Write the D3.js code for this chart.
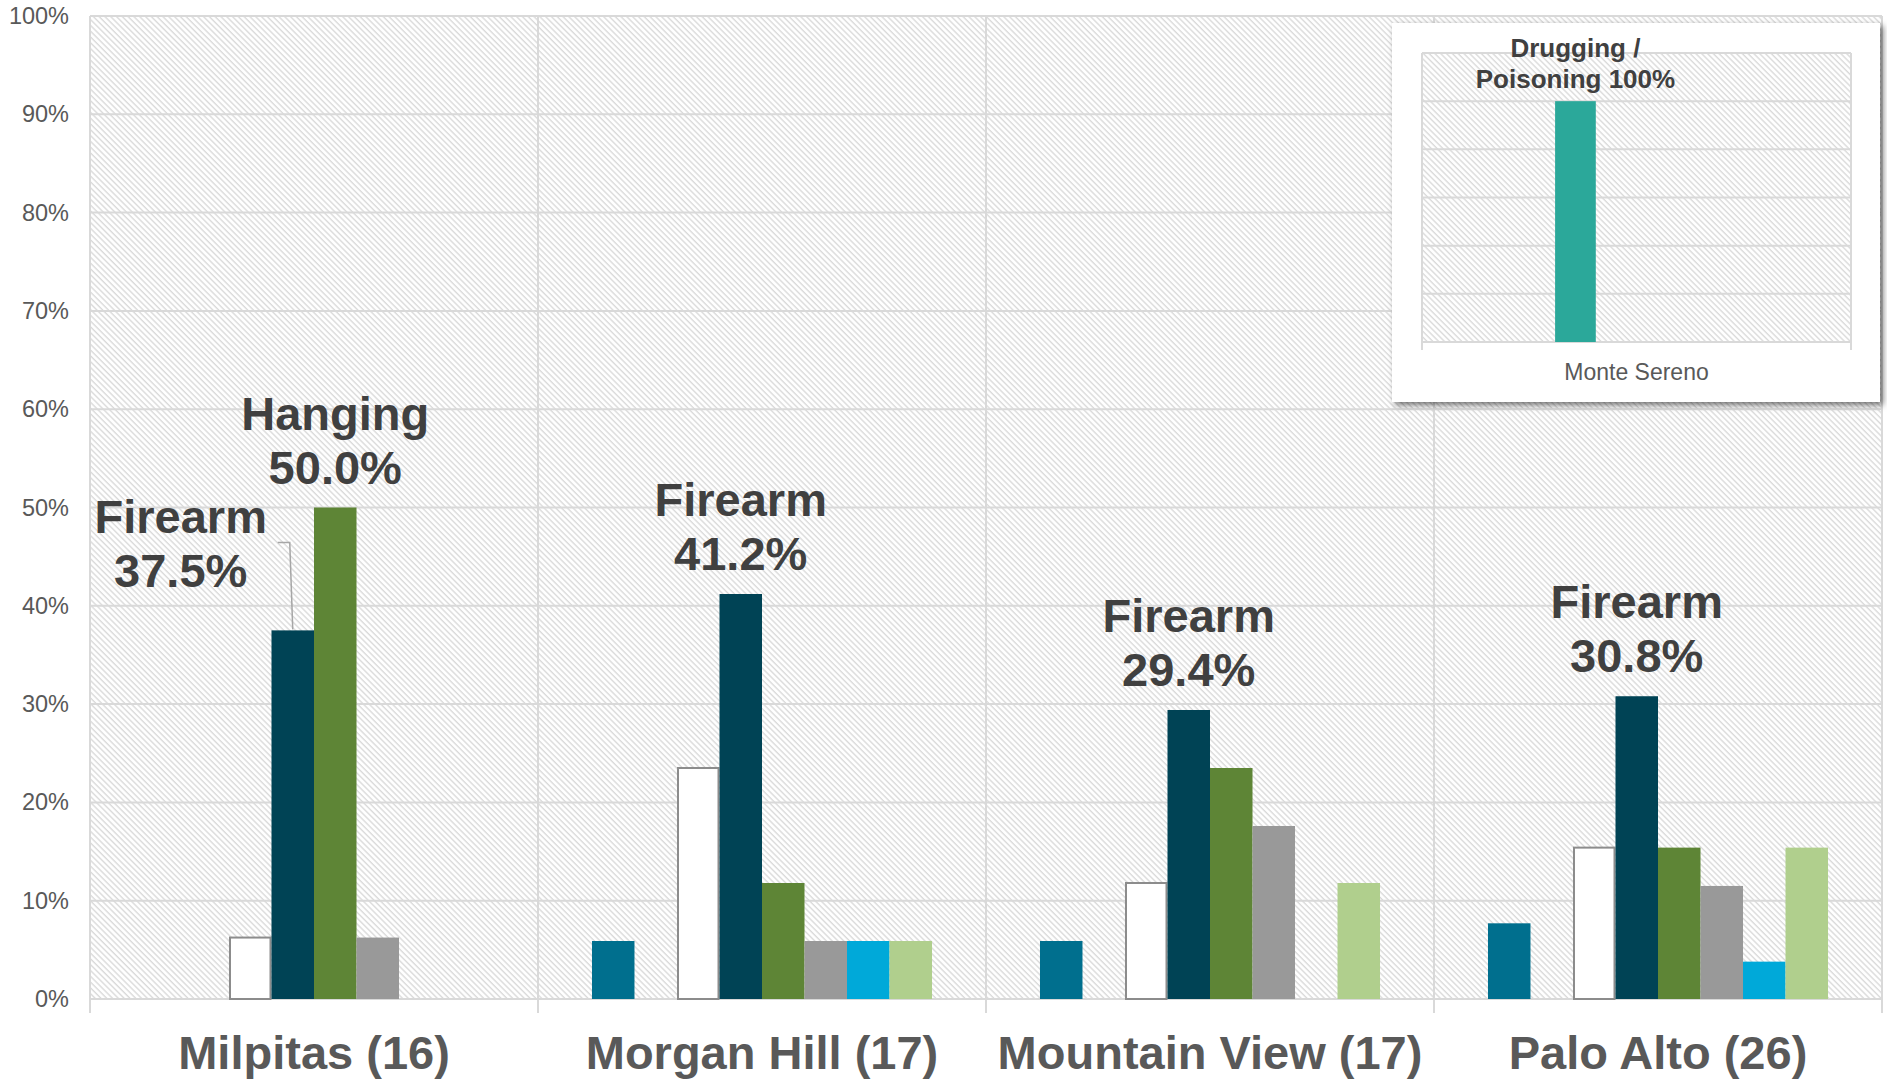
<!DOCTYPE html>
<html>
<head>
<meta charset="utf-8">
<script src="https://cdn.jsdelivr.net/npm/d3@7"></script>
<style>
  html, body { margin: 0; padding: 0; background: #ffffff; }
  svg { display: block; font-family: "Liberation Sans", Arial, sans-serif; }
</style>
</head>
<body>
<svg id="chart" width="1887" height="1084"></svg>
<script>
// ---------- DATA ----------
const categories = ["Milpitas (16)", "Morgan Hill (17)", "Mountain View (17)", "Palo Alto (26)"];
const seriesNames = ["Cutting / Piercing", "Drugging / Poisoning", "Fall / Jump", "Firearm", "Hanging", "Other", "Suffocation", "Train / Vehicle"];
const seriesColors = ["#006F8E", "#2BA89A", "#FFFFFF", "#004355", "#5E8536", "#999999", "#00A9D9", "#B0CF8D"];
// percent values, one row per category, one entry per series
const valMilpitas     = [0,   0, 6.25, 37.5, 50.0, 6.25, 0,   0];
const valMorganHill   = [5.9, 0, 23.5, 41.2, 11.8, 5.9,  5.9, 5.9];
const valMountainView = [5.9, 0, 11.8, 29.4, 23.5, 17.6, 0,   11.8];
const valPaloAlto     = [7.7, 0, 15.4, 30.8, 15.4, 11.5, 3.8, 15.4];
const yTicks = [0, 10, 20, 30, 40, 50, 60, 70, 80, 90, 100];
const yTickLabels = ["0%", "10%", "20%", "30%", "40%", "50%", "60%", "70%", "80%", "90%", "100%"];
// callout labels: [category, series, line1, line2]
const callouts = [
  ["Milpitas (16)", "Hanging", "Hanging", "50.0%"],
  ["Milpitas (16)", "Firearm", "Firearm", "37.5%"],
  ["Morgan Hill (17)", "Firearm", "Firearm", "41.2%"],
  ["Mountain View (17)", "Firearm", "Firearm", "29.4%"],
  ["Palo Alto (26)", "Firearm", "Firearm", "30.8%"]
];
// inset chart
const insetCategory = ["Monte Sereno"];
const insetSeriesOrder = ["Cutting / Piercing", "Fall / Jump", "Drugging / Poisoning", "Firearm", "Hanging", "Other", "Suffocation", "Train / Vehicle"];
const insetValues = [0, 0, 100, 0, 0, 0, 0, 0];
const insetTicks = [0, 20, 40, 60, 80, 100, 120];
const insetLabel = ["Drugging /", "Poisoning 100%"];

// ---------- SETUP ----------
const values = [valMilpitas, valMorganHill, valMountainView, valPaloAlto];
const svg = d3.select("#chart");
const grid = "#d9d9d9";
const defs = svg.append("defs");

const pat = defs.append("pattern").attr("id", "hatch")
  .attr("patternUnits", "userSpaceOnUse").attr("width", 4.1).attr("height", 10)
  .attr("patternTransform", "rotate(-45)");
pat.append("rect").attr("width", 4.1).attr("height", 10).attr("fill", "#ffffff");
pat.append("line").attr("x1", 1).attr("x2", 1).attr("y1", 0).attr("y2", 10)
  .attr("stroke", "#dadada").attr("stroke-width", 1.4);

const shadow = defs.append("filter").attr("id", "shadow")
  .attr("x", "-10%").attr("y", "-10%").attr("width", "120%").attr("height", "120%");
shadow.append("feDropShadow").attr("dx", 3).attr("dy", 3).attr("stdDeviation", 3)
  .attr("flood-color", "#000").attr("flood-opacity", 0.55);

// ---------- MAIN CHART ----------
const M = { left: 90, right: 1882, top: 16, bottom: 999 };
const x0 = d3.scaleBand().domain(categories).range([M.left, M.right]).padding(0);
const x1 = d3.scaleBand().domain(seriesNames).range([0, x0.bandwidth()])
  .paddingInner(0).paddingOuter(1.27);
const y = d3.scaleLinear().domain([0, 100]).range([M.bottom, M.top]);

svg.append("rect").attr("x", M.left).attr("y", M.top)
  .attr("width", M.right - M.left).attr("height", M.bottom - M.top)
  .attr("fill", "url(#hatch)");

// horizontal gridlines
svg.append("g").selectAll("line").data(yTicks).join("line")
  .attr("x1", M.left).attr("x2", M.right)
  .attr("y1", d => y(d)).attr("y2", d => y(d))
  .attr("stroke", grid).attr("stroke-width", 2);

// vertical category separators (with tick extension)
const seps = categories.map(c => x0(c)).concat([M.right]);
svg.append("g").selectAll("line").data(seps).join("line")
  .attr("x1", d => d).attr("x2", d => d)
  .attr("y1", M.top).attr("y2", M.bottom + 14)
  .attr("stroke", grid).attr("stroke-width", 2);

// y axis labels
const yAxis = d3.axisLeft(y).tickValues(yTicks)
  .tickFormat((d, i) => yTickLabels[i]).tickSize(0).tickPadding(21);
const yg = svg.append("g").attr("transform", `translate(${M.left},0)`).call(yAxis);
yg.select(".domain").remove();
yg.selectAll("text").attr("font-size", 23.5).attr("fill", "#595959")
  .attr("font-family", "'Liberation Sans', Arial, sans-serif");

// bars
const groups = svg.append("g").selectAll("g").data(categories).join("g")
  .attr("transform", c => `translate(${x0(c)},0)`);
groups.selectAll("rect")
  .data((c, ci) => seriesNames.map((s, si) => ({ s, si, v: values[ci][si] })).filter(d => d.v > 0))
  .join("rect")
  .attr("x", d => x1(d.s) + (d.si === 2 ? 1 : 0))
  .attr("width", d => x1.bandwidth() - (d.si === 2 ? 2 : 0))
  .attr("y", d => y(d.v))
  .attr("height", d => y(0) - y(d.v))
  .attr("fill", d => seriesColors[d.si])
  .attr("stroke", d => d.si === 2 ? "#8c8c8c" : "none")
  .attr("stroke-width", d => d.si === 2 ? 2 : 0);

// x axis category labels
const xAxis = d3.axisBottom(x0).tickSize(0).tickPadding(0);
const xg = svg.append("g").attr("transform", `translate(0,${M.bottom})`).call(xAxis);
xg.select(".domain").remove();
xg.selectAll("text").attr("dy", null).attr("y", 70)
  .attr("font-size", 47).attr("font-weight", "bold").attr("fill", "#595959")
  .attr("font-family", "'Liberation Sans', Arial, sans-serif");

// callout labels
const labelG = svg.append("g").attr("font-size", 47).attr("font-weight", "bold")
  .attr("fill", "#404040").attr("text-anchor", "middle");
callouts.forEach(([cat, ser, l1, l2]) => {
  const ci = categories.indexOf(cat), si = seriesNames.indexOf(ser);
  const cx = x0(cat) + x1(ser) + x1.bandwidth() / 2;
  const top = y(values[ci][si]);
  const special = (cat === "Milpitas (16)" && ser === "Firearm");
  const lx = special ? cx - 112 : cx;
  const base2 = special ? top - 43 : top - 24;
  labelG.append("text").attr("x", lx).attr("y", base2 - 54).text(l1);
  labelG.append("text").attr("x", lx).attr("y", base2).text(l2);
  if (special) {
    svg.append("path")
      .attr("d", `M${cx - 15},${top - 88} L${cx - 3},${top - 88} L${cx},${top - 1}`)
      .attr("fill", "none").attr("stroke", "#a6a6a6").attr("stroke-width", 1.5);
  }
});

// ---------- INSET ----------
const I = { bx: 1392, by: 23, bw: 488, bh: 379, left: 1422, right: 1851, top: 53, bottom: 342 };
svg.append("rect").attr("x", I.bx).attr("y", I.by).attr("width", I.bw).attr("height", I.bh)
  .attr("fill", "#ffffff").attr("filter", "url(#shadow)");
const iy = d3.scaleLinear().domain([0, 120]).range([I.bottom, I.top]);
const ix0 = d3.scaleBand().domain(insetCategory).range([I.left, I.right]);
const ix1 = d3.scaleBand().domain(insetSeriesOrder).range([0, ix0.bandwidth()])
  .paddingInner(0).paddingOuter(1.27);
svg.append("rect").attr("x", I.left).attr("y", I.top)
  .attr("width", I.right - I.left).attr("height", I.bottom - I.top)
  .attr("fill", "url(#hatch)");
svg.append("g").selectAll("line").data(insetTicks).join("line")
  .attr("x1", I.left).attr("x2", I.right)
  .attr("y1", d => iy(d)).attr("y2", d => iy(d))
  .attr("stroke", grid).attr("stroke-width", 2);
svg.append("g").selectAll("line").data([I.left, I.right]).join("line")
  .attr("x1", d => d).attr("x2", d => d).attr("y1", I.top).attr("y2", I.bottom + 8)
  .attr("stroke", grid).attr("stroke-width", 2);
const insetBars = insetSeriesOrder.map((s, i) => ({ s, v: insetValues[i] })).filter(d => d.v > 0);
svg.append("g").selectAll("rect").data(insetBars).join("rect")
  .attr("x", d => ix0(insetCategory[0]) + ix1(d.s))
  .attr("width", ix1.bandwidth())
  .attr("y", d => iy(d.v)).attr("height", d => iy(0) - iy(d.v))
  .attr("fill", d => seriesColors[seriesNames.indexOf(d.s)]);
const ixg = svg.append("g").attr("transform", `translate(0,${I.bottom})`)
  .call(d3.axisBottom(ix0).tickSize(0));
ixg.select(".domain").remove();
ixg.selectAll("text").attr("dy", null).attr("y", 38).attr("font-size", 23)
  .attr("fill", "#595959").attr("font-family", "'Liberation Sans', Arial, sans-serif");
const ib = insetBars[0];
const icx = ix0(insetCategory[0]) + ix1(ib.s) + ix1.bandwidth() / 2;
const ig = svg.append("g").attr("font-size", 26).attr("font-weight", "bold")
  .attr("fill", "#404040").attr("text-anchor", "middle");
ig.append("text").attr("x", icx).attr("y", iy(ib.v) - 44).text(insetLabel[0]);
ig.append("text").attr("x", icx).attr("y", iy(ib.v) - 13).text(insetLabel[1]);
</script>
</body>
</html>
